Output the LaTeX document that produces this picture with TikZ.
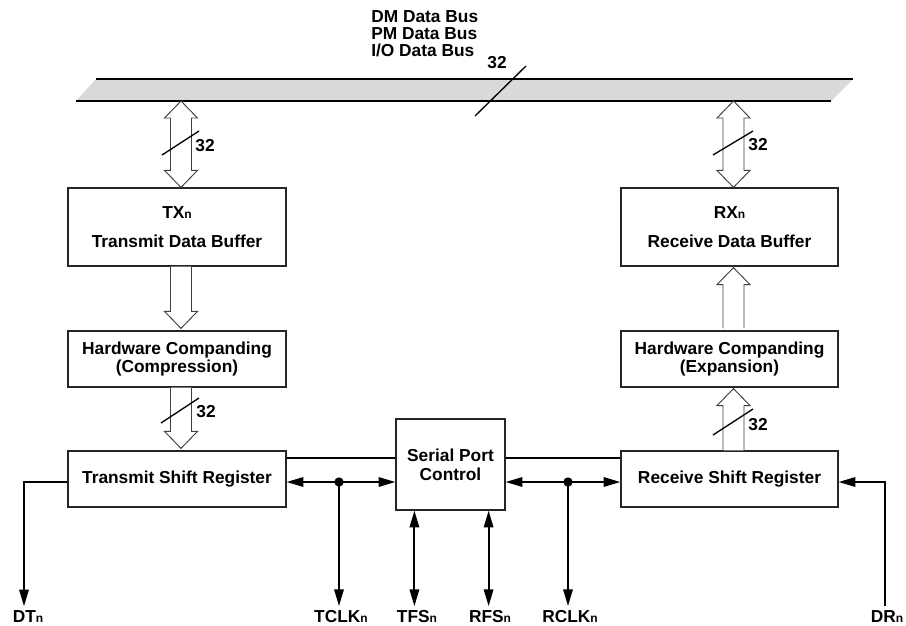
\documentclass[tikz,border=0pt]{standalone}
\usepackage{fontspec}
\setmainfont{Liberation Sans}
\usetikzlibrary{arrows.meta,calc}

% small trailing index letter (TXn, DRn, ...)
\newcommand\idx[1]{{\fontsize{9}{9}\selectfont #1}}

% hollow block arrow with one head: #1 signed head length, #2 tail, #3 tip
\newcommand\fatarrow[3]{%
  \draw[hollow] let \p1=(#2), \p2=(#3) in
    ({\x1-7.875pt},{\y1}) -- ({\x1-7.875pt},{\y2+#1}) -- ({\x1-12.375pt},{\y2+#1})
    -- ({\x1},{\y2}) -- ({\x1+12.375pt},{\y2+#1}) -- ({\x1+7.875pt},{\y2+#1})
    -- ({\x1+7.875pt},{\y1});}

% hollow block arrow with heads at both ends: #1 upper tip, #2 lower tip
\newcommand\fatdouble[2]{%
  \draw[hollow] let \p1=(#1), \p2=(#2) in
    ({\x1},{\y1}) -- ({\x1+12.375pt},{\y1-12.75pt}) -- ({\x1+7.875pt},{\y1-12.75pt})
    -- ({\x1+7.875pt},{\y2+12.75pt}) -- ({\x1+12.375pt},{\y2+12.75pt}) -- ({\x1},{\y2})
    -- ({\x1-12.375pt},{\y2+12.75pt}) -- ({\x1-7.875pt},{\y2+12.75pt})
    -- ({\x1-7.875pt},{\y1-12.75pt}) -- ({\x1-12.375pt},{\y1-12.75pt}) -- cycle;}

\begin{document}
\begin{tikzpicture}[x=0.75pt,y=-0.75pt,
  every node/.style={font=\fontsize{13}{14}\selectfont\bfseries},
  box/.style={draw=black!85, line width=0.9pt, align=center, inner sep=0pt,
              minimum width=218*0.75pt, minimum height=56*0.75pt},
  hollow/.style={draw=black!75, line width=0.7pt, fill=white},
  wire/.style={line width=1.5pt},
  slash/.style={line width=1pt},
  tip/.style={-{Triangle[length=12.5pt,width=7pt]}},
  bitip/.style={{Triangle[length=12.5pt,width=7pt]}-{Triangle[length=12.5pt,width=7pt]}},
  pin/.style={}
]
\useasboundingbox (0,0) rectangle (906,625);
\fill[white] (0,0) rectangle (906,625);

% shared data bus
\fill[black!15] (76,101) -- (96,79) -- (853,79) -- (831,101) -- cycle;
\draw[line width=1pt] (96,79) -- (853,79);
\draw[line width=1pt] (76,101) -- (831,101);
\coordinate (busTX) at (181,101);
\coordinate (busRX) at (733.5,101);
\node[anchor=west, align=left, inner sep=0pt, font=\fontsize{13}{12.75}\selectfont\bfseries]
  (buslbl) at (371,34) {DM Data Bus\\PM Data Bus\\I/O Data Bus};
\draw[slash] (475,116) -- (526,66);
\node (buswidth) at (497,63) {32};

% blocks
\node[box, minimum height=78*0.75pt] (tx) at (177,227) {TX\idx{n}\\[8pt]Transmit Data Buffer};
\node[box] (hwc) at (177,359) {Hardware Companding\\(Compression)};
\node[box] (tsr) at (177,479) {Transmit Shift Register};
\node[box, minimum width=217*0.75pt, minimum height=78*0.75pt] (rx) at (729.5,227) {RX\idx{n}\\[8pt]Receive Data Buffer};
\node[box, minimum width=217*0.75pt] (hwe) at (729.5,359) {Hardware Companding\\(Expansion)};
\node[box, minimum width=217*0.75pt] (rsr) at (729.5,479) {Receive Shift Register};
\node[box, minimum width=109*0.75pt, minimum height=91*0.75pt] (spc) at (450.5,464.5) {Serial Port\\Control};

% block arrows
\fatdouble{busTX}{$(tx.north)+(4,0)$}
\fatdouble{busRX}{$(rx.north)+(4,0)$}
\fatarrow{12.75pt}{$(tx.south)+(4,0)$}{$(hwc.north)+(4,-2)$}
\fatarrow{12.75pt}{$(hwc.south)+(4,0)$}{$(tsr.north)+(4,-2)$}
\fatarrow{(-12.75pt)}{$(hwe.north)+(4,-2)$}{$(rx.south)+(4,1)$}
\fatarrow{(-12.75pt)}{$(rsr.north)+(4,0)$}{$(hwe.south)+(4,1)$}

% width marks on the block arrows
\draw[slash] (162,155) -- (199,131);
\node (w1) at (205,146) {32};
\draw[slash] (713,155) -- (753,131);
\node (w2) at (758,145) {32};
\draw[slash] (161,423) -- (199,398);
\node (w3) at (206,412) {32};
\draw[slash] (713,435) -- (753,409);
\node (w4) at (758,425) {32};

% pin labels
\node (dt) at (28,617) {DT\idx{n}};
\node (tclk) at (341,617) {TCLK\idx{n}};
\node (tfs) at (417,617) {TFS\idx{n}};
\node (rfs) at (490,617) {RFS\idx{n}};
\node (rclk) at (570,617) {RCLK\idx{n}};
\node (dr) at (887,617) {DR\idx{n}};

% transmit side wiring
\draw[wire] ($(tsr.north east)+(0,8)$) coordinate (t1) -- (t1 -| spc.west);
\draw[wire, bitip] ($(tsr.east)+(0,3)$) coordinate (t2) -- (t2 -| spc.west);
\coordinate (td) at (339,482);
\fill (td) circle (3.5pt);
\draw[wire, tip] (td) -- (td |- tclk.north);
\draw[wire, tip] ($(tsr.west)+(0,3)$) -| ($(dt.north)+(-4,0)$);

% frame sync lines
\coordinate (tfsTop) at ($(spc.south west)+(19,0)$);
\draw[wire, bitip] (tfsTop) -- (tfsTop |- tfs.north);
\coordinate (rfsTop) at ($(spc.south east)+(-17,0)$);
\draw[wire, bitip] (rfsTop) -- (rfsTop |- rfs.north);

% receive side wiring
\draw[wire] ($(rsr.north west)+(0,8)$) coordinate (r1) -- (r1 -| spc.east);
\draw[wire, bitip] ($(rsr.west)+(0,3)$) coordinate (r2) -- (r2 -| spc.east);
\coordinate (rd) at (568,482);
\fill (rd) circle (3.5pt);
\draw[wire, tip] (rd) -- (rd |- rclk.north);
\draw[wire, tip] ($(dr.north)+(-2,0)$) |- ($(rsr.east)+(0,3)$);
\end{tikzpicture}
\end{document}
